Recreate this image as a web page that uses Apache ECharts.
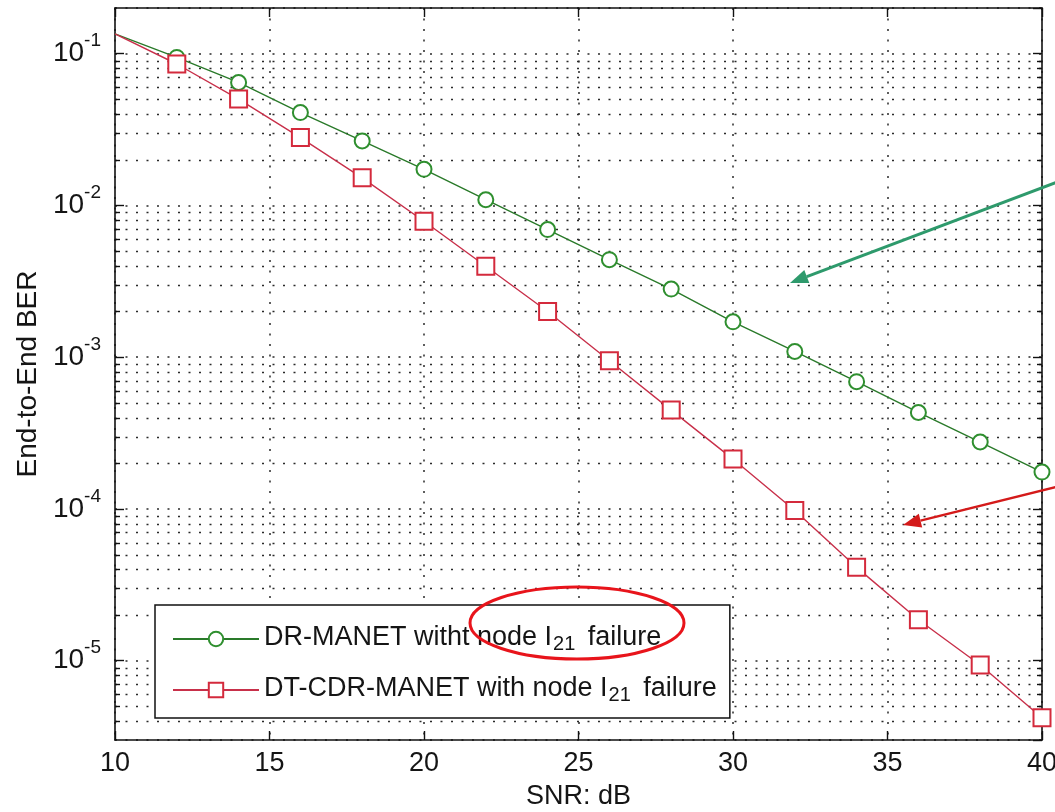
<!DOCTYPE html>
<html>
<head>
<meta charset="utf-8">
<script src="https://cdn.jsdelivr.net/npm/echarts@6/dist/echarts.min.js"></script>
<style>
  html, body { margin: 0; padding: 0; background: #fff; }
  #chart { width: 1055px; height: 812px; }
</style>
</head>
<body>
<div id="chart"></div>
<script>
// SNR sweep (dB) and end-to-end BER of both schemes
const snrDb = [10, 12, 14, 16, 18, 20, 22, 24, 26, 28, 30, 32, 34, 36, 38, 40];
const berDrManet = [0.135, 0.0945, 0.0646, 0.0409, 0.0266, 0.0173, 0.0109, 0.00693, 0.00439,
  0.00281, 0.00171, 0.00109, 0.000689, 0.000432, 0.000276, 0.000175];
const berDtCdrManet = [0.135, 0.0855, 0.0502, 0.028, 0.0152, 0.00787, 0.00397, 0.0020, 0.000948,
  0.000448, 0.000213, 0.0000977, 0.0000412, 0.0000186, 0.00000937, 0.0000042];
const seriesNames = ['DR-MANET witht node I21 failure', 'DT-CDR-MANET with node I21 failure'];

// axis ranges
const xMin = 10, xMax = 40, xStep = 5;
const yMin = 3e-6, yMax = 0.2;
const decadeExponents = [-6, -5, -4, -3, -2, -1];
const minorMantissas = [2, 3, 4, 5, 6, 7, 8, 9];

const ink = '#111';
const dotColor = '#2a2a2a';
const dotWidth = 1.5;
const dotDash = [2, 8.5];
const gridDots = { color: dotColor, width: dotWidth, type: dotDash };
const greenLine = '#2a7a2a', greenMark = '#2f8f2f';
const redLine = '#c8304a', redMark = '#d42a3c';
const fontFamily = '"Liberation Sans", Arial, sans-serif';

// minor (2..9 x 10^k) positions on the log axis
const minorValues = [];
decadeExponents.forEach(k => minorMantissas.forEach(m => {
  const v = m * Math.pow(10, k);
  if (v > yMin * 1.0001 && v < yMax * 0.9999) minorValues.push(v);
}));

function points(values) {
  return snrDb.map((x, i) => (i === 0)
    ? { value: [x, values[i]], symbol: 'none' }
    : [x, values[i]]);
}

function powLabel(value) {
  const l = Math.log10(value);
  const e = Math.round(l);
  if (Math.abs(l - e) > 1e-6) return '';
  return '{b|10}{e|' + e + '}';
}

// dotted minor grid line plus short inside ticks on both frame edges
function renderMinor(params, api) {
  const v = api.value(1);
  const a = api.coord([xMin, v]);
  const b = api.coord([xMax, v]);
  const y = Math.round(a[1]) + 0.5;
  return {
    type: 'group',
    children: [
      { type: 'line', shape: { x1: a[0], y1: y, x2: b[0], y2: y },
        style: { stroke: dotColor, lineWidth: dotWidth, lineDash: dotDash } },
      { type: 'line', shape: { x1: a[0], y1: y, x2: a[0] + 5, y2: y },
        style: { stroke: ink, lineWidth: 1.4 } },
      { type: 'line', shape: { x1: b[0] - 5, y1: y, x2: b[0], y2: y },
        style: { stroke: ink, lineWidth: 1.4 } }
    ]
  };
}

const chart = echarts.init(document.getElementById('chart'), null, { renderer: 'canvas' });

const option = {
  animation: false,
  backgroundColor: '#fff',
  textStyle: { fontFamily: fontFamily },
  grid: { left: 115, right: 13, top: 8, bottom: 72, containLabel: false, outerBoundsMode: 'none' },
  xAxis: [{
    type: 'value', min: xMin, max: xMax, interval: xStep, position: 'bottom',
    name: 'SNR: dB', nameLocation: 'middle', nameGap: 43,
    nameTextStyle: { fontSize: 27, color: '#151515', fontFamily: fontFamily },
    axisLine: { lineStyle: { color: ink, width: 1.6 } },
    axisTick: { inside: true, length: 9, lineStyle: { color: ink, width: 1.4 } },
    axisLabel: { fontSize: 27, color: '#151515', margin: 10, fontFamily: fontFamily,
                 showMinLabel: true, showMaxLabel: true },
    splitLine: { show: true, lineStyle: gridDots }
  }, {
    type: 'value', min: xMin, max: xMax, interval: xStep, position: 'top',
    axisLine: { lineStyle: { color: ink, width: 1.6 } },
    axisTick: { inside: true, length: 9, lineStyle: { color: ink, width: 1.4 } },
    axisLabel: { show: false },
    splitLine: { show: false }
  }],
  yAxis: [{
    type: 'log', logBase: 10, min: yMin, max: yMax, position: 'left',
    name: 'End-to-End BER', nameLocation: 'middle', nameGap: 70, nameRotate: 90,
    nameTextStyle: { fontSize: 28, color: '#151515', fontFamily: fontFamily },
    axisLine: { lineStyle: { color: ink, width: 1.6 } },
    axisTick: { inside: true, length: 9, lineStyle: { color: ink, width: 1.4 } },
    axisLabel: {
      formatter: powLabel, margin: 14, showMinLabel: false, showMaxLabel: false,
      rich: {
        b: { fontSize: 28, color: '#151515', fontFamily: fontFamily, lineHeight: 44 },
        e: { fontSize: 19, color: '#151515', fontFamily: fontFamily, lineHeight: 19, verticalAlign: 'top' }
      }
    },
    splitLine: { show: true, lineStyle: gridDots }
  }, {
    type: 'log', logBase: 10, min: yMin, max: yMax, position: 'right',
    axisLine: { lineStyle: { color: ink, width: 1.6 } },
    axisTick: { inside: true, length: 9, lineStyle: { color: ink, width: 1.4 } },
    axisLabel: { show: false },
    splitLine: { show: false }
  }],
  legend: {
    orient: 'vertical', left: 155, top: 605,
    padding: [17, 13, 13, 17], itemGap: 19,
    itemWidth: 86, itemHeight: 18,
    backgroundColor: '#fff', borderColor: ink, borderWidth: 1.5, borderRadius: 0,
    data: seriesNames,
    formatter: name => {
      const parts = name.split('I21');
      return '{n|' + parts[0] + 'I}{s|21}{n|' + parts[1] + '}';
    },
    textStyle: {
      rich: {
        n: { fontSize: 27, color: '#151515', fontFamily: fontFamily, lineHeight: 30, verticalAlign: 'top' },
        s: { fontSize: 20, color: '#151515', fontFamily: fontFamily, lineHeight: 22,
             padding: [12, 5, 0, 1], verticalAlign: 'bottom' }
      }
    }
  },
  series: [{
    name: 'minor-grid', type: 'custom', xAxisIndex: 0, yAxisIndex: 0,
    data: minorValues.map(v => [xMin, v]),
    encode: { x: 0, y: 1 },
    renderItem: renderMinor,
    silent: true, z: 1
  }, {
    name: seriesNames[0], type: 'line', xAxisIndex: 0, yAxisIndex: 0,
    data: points(berDrManet),
    symbol: 'emptyCircle', symbolSize: 15, showAllSymbol: true,
    lineStyle: { color: greenLine, width: 1.4 },
    itemStyle: { color: greenMark, borderColor: greenMark, borderWidth: 1.5 },
    z: 5
  }, {
    name: seriesNames[1], type: 'line', xAxisIndex: 0, yAxisIndex: 0,
    data: points(berDtCdrManet),
    symbol: 'emptyRect', symbolSize: 17, showAllSymbol: true,
    lineStyle: { color: redLine, width: 1.4 },
    itemStyle: { color: redMark, borderColor: redMark, borderWidth: 1.5 },
    z: 5
  }],
  graphic: [
    // green callout arrow
    { type: 'line', shape: { x1: 1060, y1: 181, x2: 806.8, y2: 276.6 },
      style: { stroke: '#2e9a6c', lineWidth: 3 }, z: 100 },
    { type: 'polygon', shape: { points: [[790, 283], [809.3, 283.1], [804.3, 270.1]] },
      style: { fill: '#2e9a6c' }, z: 100 },
    // red callout arrow
    { type: 'line', shape: { x1: 1060, y1: 486, x2: 920.5, y2: 520.6 },
      style: { stroke: '#d41a1a', lineWidth: 2.5 }, z: 100 },
    { type: 'polygon', shape: { points: [[903, 525], [922.2, 527.4], [918.8, 513.8]] },
      style: { fill: '#d41a1a' }, z: 100 },
    // highlight ring around the node label
    { type: 'ellipse', shape: { cx: 577, cy: 623, rx: 107, ry: 36 },
      style: { stroke: '#e8141b', lineWidth: 3, fill: null }, z: 100 }
  ]
};

chart.setOption(option);
</script>
</body>
</html>
